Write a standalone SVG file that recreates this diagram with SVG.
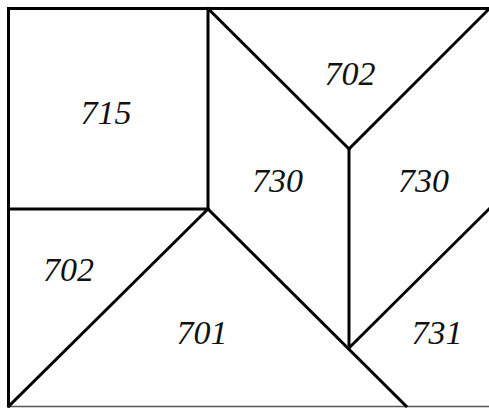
<svg xmlns="http://www.w3.org/2000/svg" width="489" height="408" viewBox="0 0 489 408">
<style>
.e{stroke:#000;stroke-width:3;fill:none;stroke-linecap:square}
.b{stroke:#555;stroke-width:1.5;fill:none}
text{font-family:"Liberation Serif","DejaVu Serif",serif;font-style:italic;font-size:34px;text-anchor:middle;fill:#111}
</style>
<rect width="489" height="408" fill="#fff"/>
<g id="connectors">
<line class="e" x1="8.5" y1="8.5" x2="489" y2="8.5"/>
<line class="e" x1="8.5" y1="8.5" x2="8.5" y2="406"/>
<line class="b" x1="8" y1="406.5" x2="489" y2="406.5"/>
<line class="e" x1="208" y1="8.5" x2="208" y2="209"/>
<line class="e" x1="8.5" y1="209" x2="208" y2="209"/>
<line class="e" x1="208" y1="8.5" x2="349" y2="149"/>
<line class="e" x1="490" y1="8" x2="349" y2="149"/>
<line class="e" x1="349" y1="149" x2="349" y2="348"/>
<line class="e" x1="349" y1="348" x2="490" y2="208"/>
<line class="e" x1="208" y1="209" x2="406" y2="406"/>
<line class="e" x1="208" y1="209" x2="9" y2="406"/>
</g>
<g id="n715"><text x="106" y="124">715</text></g>
<g id="n702a"><text x="350" y="85">702</text></g>
<g id="n730a"><text x="277.5" y="192">730</text></g>
<g id="n730b"><text x="423.5" y="192">730</text></g>
<g id="n702b"><text x="68.5" y="281">702</text></g>
<g id="n701"><text x="202" y="344">701</text></g>
<g id="n731"><text x="437" y="344">731</text></g>
</svg>
